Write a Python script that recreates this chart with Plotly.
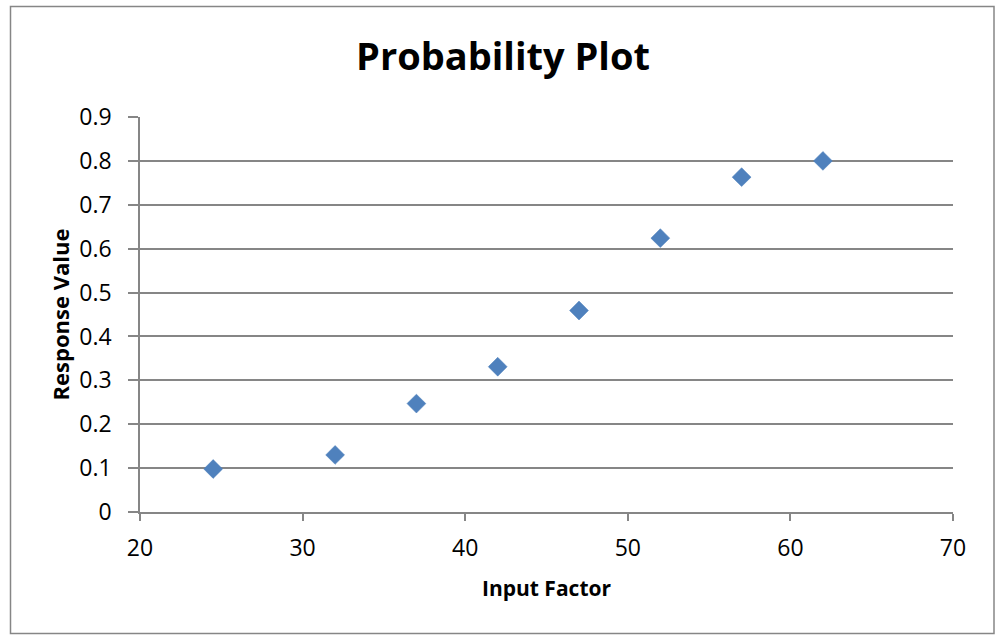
import plotly.graph_objects as go

input_factor = [24.5, 32, 37, 42, 47, 52, 57, 62]
response_value = [0.098, 0.13, 0.247, 0.331, 0.459, 0.624, 0.763, 0.80]

title_text = "Probability Plot"
x_title = "Input Factor"
y_title = "Response Value"

W, H = 997, 635
L, R, T, B = 140, 44, 117, 123
pw = W - L - R
ph = H - T - B

def px_to_paper_x(px):
    return (px - L) / pw

def px_to_paper_y(py):
    return (H - B - py) / ph

fig = go.Figure()
fig.add_trace(go.Scatter(
    x=input_factor, y=response_value, mode="markers",
    marker=dict(symbol="diamond", size=14.5, color="#4F81BD",
                line=dict(color="#4A7EBB", width=0.5)),
    showlegend=False, hoverinfo="x+y",
))

font_family = "Open Sans, Noto Sans, Liberation Sans, sans-serif"
line_col = "#868686"

fig.update_layout(
    width=W, height=H,
    margin=dict(l=L, r=R, t=T, b=B, autoexpand=False),
    paper_bgcolor="white", plot_bgcolor="white",
    font=dict(family=font_family, color="#000000"),
    title=dict(text="<b>" + title_text + "</b>", x=503 / W,
               xanchor="center", y=1 - 57 / H, yanchor="middle",
               font=dict(size=38, family=font_family, color="#000000")),
    xaxis=dict(
        range=[20, 70], dtick=10, tick0=20,
        showgrid=False, zeroline=False,
        showline=True, linecolor=line_col, linewidth=1.6,
        ticks="outside", ticklen=7, tickcolor=line_col, tickwidth=1.6,
        ticklabelstandoff=8,
        tickfont=dict(size=23, family=font_family, color="#000000"),
        title=dict(text="<b>" + x_title + "</b>", standoff=19,
                   font=dict(size=21, family=font_family, color="#000000")),
    ),
    yaxis=dict(
        range=[0, 0.9], dtick=0.1, tick0=0,
        showgrid=True, gridcolor=line_col, gridwidth=1.6,
        zeroline=False,
        showline=True, linecolor=line_col, linewidth=1.6,
        ticks="outside", ticklen=10, tickcolor=line_col, tickwidth=1.6,
        ticklabelstandoff=12,
        tickfont=dict(size=23, family=font_family, color="#000000"),
        title=dict(text="<b>" + y_title + "</b>", standoff=4,
                   font=dict(size=22, family=font_family, color="#000000")),
    ),
    shapes=[dict(
        type="rect", xref="paper", yref="paper",
        x0=px_to_paper_x(10.5), x1=px_to_paper_x(994), y0=px_to_paper_y(633.5), y1=px_to_paper_y(6.5),
        line=dict(color=line_col, width=1.5), fillcolor="rgba(0,0,0,0)", layer="below",
    )],
)

fig.write_html("out.html", config={"displayModeBar": False},
               post_script="document.body.style.margin='0';")
